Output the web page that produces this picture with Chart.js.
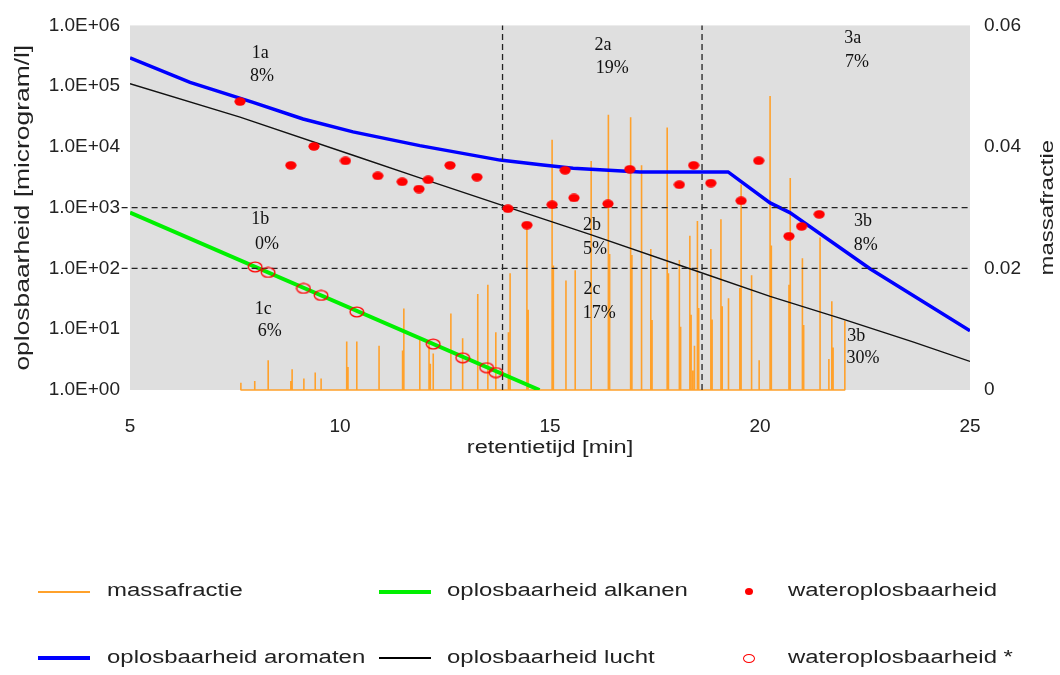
<!DOCTYPE html>
<html><head><meta charset="utf-8">
<script src="https://cdn.jsdelivr.net/npm/chart.js@4.4.1/dist/chart.umd.min.js"></script>
<style>
html,body{margin:0;padding:0;background:#fff;overflow:hidden}
#wrap{position:relative;width:1060px;height:675px}
#c{position:absolute;left:0;top:0}
.lg-sym{position:absolute}
.lg-text{position:absolute;font-family:"Liberation Sans",Arial,sans-serif;font-size:18px;line-height:20px;color:#222;white-space:nowrap;transform:scaleX(1.33);transform-origin:0 50%}
</style></head>
<body><div id="wrap"><canvas id="c" width="1060" height="675"></canvas><div id="legend"></div></div>
<script>
// ---------------- DATA ----------------
const xTicks = [5, 10, 15, 20, 25];
const xTickLabels = ['5', '10', '15', '20', '25'];
const yTicks = [1, 10, 100, 1000, 10000, 100000, 1000000];
const yTickLabels = ['1.0E+00', '1.0E+01', '1.0E+02', '1.0E+03', '1.0E+04', '1.0E+05', '1.0E+06'];
const y2Ticks = [0, 0.02, 0.04, 0.06];
const y2TickLabels = ['0', '0.02', '0.04', '0.06'];

const xTitle = 'retentietijd [min]';
const yTitle = 'oplosbaarheid [microgram/l]';
const y2Title = 'massafractie';

// oplosbaarheid aromaten
const aromX = [5, 6.43, 7.93, 9.12, 10.31, 11.9, 13.81, 14.83, 15.55, 17.14, 19.24, 20.24, 20.71, 22.62, 25];
const aromY = [292000, 115000, 54000, 28800, 17700, 10500, 6070, 5040, 4450, 3880, 3880, 1200, 830, 99, 9.4];

// oplosbaarheid lucht
const luchtX = [5, 7.62, 10.31, 11.9, 13.81, 15.95, 18.33, 20.24, 21.9, 23.64, 25];
const luchtY = [110000, 31000, 7300, 3100, 1120, 363, 99, 34.7, 15.2, 6.2, 2.95];

// oplosbaarheid alkanen
const alkX = [5, 14.75];
const alkY = [830, 1];

// wateroplosbaarheid
const waterX = [7.62, 8.83, 9.38, 10.13, 10.9, 11.48, 11.88, 12.10, 12.62, 13.26, 14.0, 14.45, 15.05, 15.36, 15.57, 16.38, 16.9, 18.08, 18.42, 18.83, 19.55, 19.97, 20.69, 20.99, 21.41];
const waterY = [55800, 4980, 10200, 5900, 3340, 2670, 2030, 2880, 4980, 3180, 963, 516, 1120, 4130, 1450, 1160, 4290, 2390, 4980, 2540, 1300, 5930, 339, 492, 778];

// wateroplosbaarheid *
const waterStarX = [7.98, 8.29, 9.13, 9.55, 10.40, 12.22, 12.92, 13.49, 13.71];
const waterStarY = [106, 86, 47, 36, 19.3, 5.7, 3.39, 2.33, 1.94];

// massafractie (peaks)
const massX = [7.64, 7.97, 8.29, 8.83, 8.86, 9.14, 9.41, 9.55, 10.16, 10.19, 10.40, 10.93, 11.49, 11.52, 11.90, 12.12, 12.15, 12.22, 12.64, 12.92, 13.28, 13.52, 13.71, 14.01, 14.05, 14.45, 14.48, 15.05, 15.08, 15.38, 15.60, 15.98, 16.39, 16.42, 16.92, 16.95, 17.18, 17.40, 17.43, 17.79, 17.82, 18.08, 18.11, 18.33, 18.36, 18.40, 18.44, 18.51, 18.54, 18.83, 18.86, 19.07, 19.10, 19.25, 19.52, 19.55, 19.80, 19.98, 20.24, 20.27, 20.69, 20.72, 21.01, 21.04, 21.43, 21.64, 21.71, 21.74, 22.02];
const massY = [0.0012, 0.0015, 0.0049, 0.0015, 0.0034, 0.0019, 0.0029, 0.0019, 0.0080, 0.0038, 0.0080, 0.0073, 0.0065, 0.0134, 0.0084, 0.0080, 0.0043, 0.0060, 0.0126, 0.0085, 0.0158, 0.0173, 0.0095, 0.0095, 0.0192, 0.0271, 0.0132, 0.0412, 0.0205, 0.0180, 0.0197, 0.0377, 0.0453, 0.0224, 0.0449, 0.0222, 0.0370, 0.0232, 0.0115, 0.0432, 0.0192, 0.0214, 0.0104, 0.0254, 0.0124, 0.0032, 0.0073, 0.0278, 0.0135, 0.0232, 0.0116, 0.0281, 0.0138, 0.0151, 0.0168, 0.0338, 0.0189, 0.0049, 0.0484, 0.0238, 0.0173, 0.0349, 0.0217, 0.0107, 0.0251, 0.0051, 0.0146, 0.0070, 0.0114];

// reference (dashed) lines
const vLinesX = [13.87, 18.62];
const hLinesY = [1000, 100];
const hLineXStart = 4.8, hLineXEnd = 25;

// region labels
const regionText = ['1a', '8%', '2a', '19%', '3a', '7%', '1b', '0%', '1c', '6%', '2b', '5%', '2c', '17%', '3b', '8%', '3b', '30%'];
const regionX = [8.10, 8.14, 16.26, 16.48, 22.21, 22.31, 8.10, 8.26, 8.17, 8.33, 16.0, 16.07, 16.0, 16.17, 22.45, 22.52, 22.29, 22.45];
const regionY = [350000, 143000, 470000, 200000, 620000, 250000, 638, 251, 21.4, 9.4, 511, 208, 45, 18.4, 593, 242, 7.8, 3.3];

// ---------------- BUILD ----------------
const pts = (xs, ys) => xs.map((x, i) => ({x: x, y: ys[i]}));
const order = massX.map((x, i) => i).sort((a, b) => massX[a] - massX[b]);
const spikes = [];
order.forEach(i => { spikes.push({x: massX[i], y: 0}, {x: massX[i], y: massY[i]}, {x: massX[i], y: 0}); });

function ellipseImg(w, h, rx, ry, fill, stroke, lw) {
  const c = document.createElement('canvas'); c.width = w; c.height = h;
  const g = c.getContext('2d'); g.beginPath(); g.ellipse(w / 2, h / 2, rx, ry, 0, 0, Math.PI * 2);
  if (fill) { g.fillStyle = fill; g.fill(); }
  if (stroke) { g.strokeStyle = stroke; g.lineWidth = lw; g.stroke(); }
  return c;
}
const dotImg = ellipseImg(12, 9, 5.6, 4.2, '#ff0000', null, 0);
const ringImg = ellipseImg(16, 12, 6.8, 4.8, null, '#ff0000', 1.3);

const C_ORANGE = '#ffa12b', C_GREEN = '#00f000', C_BLUE = '#0000ff', C_BLACK = '#111111', C_RED = '#ff0000';
const lineBase = {showLine: true, pointRadius: 0, pointHoverRadius: 0, fill: false, tension: 0};
const dashBase = Object.assign({}, lineBase, {borderColor: '#222', borderWidth: 1.3, borderDash: [6, 4], yAxisID: 'y', order: 2, clip: false});

const datasets = [
  {label: 'wateroplosbaarheid', data: pts(waterX, waterY), yAxisID: 'y', showLine: false, pointStyle: dotImg, pointRadius: 5, order: 0},
  {label: 'wateroplosbaarheid *', data: pts(waterStarX, waterStarY), yAxisID: 'y', showLine: false, pointStyle: ringImg, pointRadius: 6, order: 1},
];
vLinesX.forEach(x => datasets.push(Object.assign({}, dashBase, {label: 'ref', data: [{x: x, y: 1}, {x: x, y: 1e6}]})));
hLinesY.forEach(y => datasets.push(Object.assign({}, dashBase, {label: 'ref', data: [{x: hLineXStart, y: y}, {x: hLineXEnd, y: y}]})));
datasets.push(
  Object.assign({}, lineBase, {label: 'oplosbaarheid aromaten', data: pts(aromX, aromY), yAxisID: 'y', borderColor: C_BLUE, borderWidth: 3.5, order: 3}),
  Object.assign({}, lineBase, {label: 'oplosbaarheid lucht', data: pts(luchtX, luchtY), yAxisID: 'y', borderColor: C_BLACK, borderWidth: 1.4, order: 4}),
  Object.assign({}, lineBase, {label: 'oplosbaarheid alkanen', data: pts(alkX, alkY), yAxisID: 'y', borderColor: C_GREEN, borderWidth: 4, order: 5}),
  Object.assign({}, lineBase, {label: 'massafractie', data: spikes, yAxisID: 'y2', borderColor: C_ORANGE, borderWidth: 1.6, borderJoinStyle: 'bevel', order: 6, clip: {left: 2, top: 2, right: 2, bottom: 3}})
);

function drawStretched(ctx, text, x, y, rot, size, sx) {
  ctx.save();
  ctx.translate(x, y); ctx.rotate(rot); ctx.scale(sx, 1);
  ctx.font = size + 'px "Liberation Sans", Arial, sans-serif';
  ctx.fillStyle = '#222'; ctx.textAlign = 'center'; ctx.textBaseline = 'middle';
  ctx.fillText(text, 0, 0);
  ctx.restore();
}

const decor = {
  id: 'decor',
  beforeDraw(chart) {
    const {ctx, chartArea: a} = chart;
    ctx.save(); ctx.fillStyle = '#dfdfdf';
    ctx.fillRect(a.left, a.top, a.right - a.left, a.bottom - a.top); ctx.restore();
  },
  afterDatasetsDraw(chart) {
    const {ctx, scales} = chart;
    ctx.save();
    ctx.font = '18px "Liberation Serif", "Times New Roman", serif';
    ctx.fillStyle = '#111'; ctx.textAlign = 'center'; ctx.textBaseline = 'middle';
    regionText.forEach((t, i) => ctx.fillText(t, scales.x.getPixelForValue(regionX[i]), scales.y.getPixelForValue(regionY[i])));
    ctx.restore();
  },
  afterDraw(chart) {
    const {ctx, chartArea: a} = chart;
    drawStretched(ctx, xTitle, (a.left + a.right) / 2, 448, 0, 18, 1.31);
    drawStretched(ctx, yTitle, 23, (a.top + a.bottom) / 2, -Math.PI / 2, 20, 1.32);
    drawStretched(ctx, y2Title, 1048, (a.top + a.bottom) / 2, -Math.PI / 2, 18, 1.33);
  }
};

const tickFont = {family: '"Liberation Sans", Arial, sans-serif', size: 19};
const TICK_COLOR = '#222';

new Chart(document.getElementById('c'), {
  type: 'scatter',
  data: {datasets: datasets},
  options: {
    responsive: false, animation: false, devicePixelRatio: 1,
    layout: {padding: {top: 21, left: 0, right: 0, bottom: 205}},
    plugins: {legend: {display: false}, tooltip: {enabled: false}},
    events: [],
    scales: {
      x: {
        type: 'linear', position: 'bottom', min: 5, max: 25,
        afterBuildTicks: s => { s.ticks = xTicks.map(v => ({value: v})); },
        ticks: {autoSkip: false, maxRotation: 0, padding: 25, font: tickFont, color: TICK_COLOR,
          callback: v => xTickLabels[xTicks.indexOf(v)]},
        grid: {display: false, drawTicks: false}, border: {display: false},
        afterFit: s => { s.height = 80; }
      },
      y: {
        type: 'logarithmic', position: 'left', min: 1, max: 1e6,
        afterBuildTicks: s => { s.ticks = yTicks.map(v => ({value: v})); },
        ticks: {autoSkip: false, padding: 10, font: tickFont, color: TICK_COLOR,
          callback: v => { const i = yTicks.indexOf(v); return i >= 0 ? yTickLabels[i] : ''; }},
        grid: {display: false, drawTicks: false}, border: {display: false},
        afterFit: s => { s.width = 130; }
      },
      y2: {
        type: 'linear', position: 'right', min: 0, max: 0.06,
        afterBuildTicks: s => { s.ticks = y2Ticks.map(v => ({value: v})); },
        ticks: {autoSkip: false, padding: 14, font: tickFont, color: TICK_COLOR,
          callback: (v, i) => y2TickLabels[i]},
        grid: {display: false, drawTicks: false}, border: {display: false},
        afterFit: s => { s.width = 90; }
      }
    }
  },
  plugins: [decor]
});

// ---------------- LEGEND (HTML) ----------------
const legendItems = [
  {label: 'massafractie', kind: 'line', color: C_ORANGE, w: 2, col: 0, row: 0},
  {label: 'oplosbaarheid alkanen', kind: 'line', color: C_GREEN, w: 4, col: 1, row: 0},
  {label: 'wateroplosbaarheid', kind: 'dot', color: C_RED, col: 2, row: 0},
  {label: 'oplosbaarheid aromaten', kind: 'line', color: C_BLUE, w: 4, col: 0, row: 1},
  {label: 'oplosbaarheid lucht', kind: 'line', color: '#000', w: 2, col: 1, row: 1},
  {label: 'wateroplosbaarheid *', kind: 'ring', color: C_RED, col: 2, row: 1}
];
const colSym = [38, 379, 749], colText = [107, 447, 788], rowMid = [591.5, 658], rowTextTop = [580, 647];
const lg = document.getElementById('legend');
legendItems.forEach(it => {
  const s = document.createElement('div'); s.className = 'lg-sym';
  const cy = rowMid[it.row];
  if (it.kind === 'line') {
    Object.assign(s.style, {left: colSym[it.col] + 'px', top: (cy - it.w / 2) + 'px', width: '52px', height: it.w + 'px', background: it.color});
  } else if (it.kind === 'dot') {
    Object.assign(s.style, {left: (colSym[it.col] - 4) + 'px', top: (cy - 3.5) + 'px', width: '8px', height: '7px', background: it.color, borderRadius: '50%'});
  } else {
    Object.assign(s.style, {left: (colSym[it.col] - 6) + 'px', top: (cy - 4.5) + 'px', width: '10px', height: '7px', border: '1.3px solid ' + it.color, borderRadius: '50%'});
  }
  lg.appendChild(s);
  const t = document.createElement('div'); t.className = 'lg-text';
  t.style.left = colText[it.col] + 'px'; t.style.top = rowTextTop[it.row] + 'px';
  t.textContent = it.label;
  lg.appendChild(t);
});
</script></body></html>
